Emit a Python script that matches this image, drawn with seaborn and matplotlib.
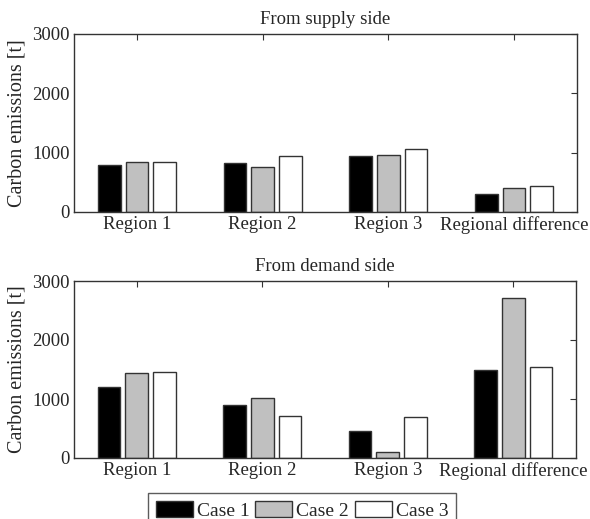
import matplotlib
matplotlib.use("Agg")
import matplotlib.pyplot as plt
import seaborn as sns
import pandas as pd

categories = ["Region 1", "Region 2", "Region 3", "Regional difference"]
cases = ["Case 1", "Case 2", "Case 3"]
supply_case1 = [800, 820, 950, 295]
supply_case2 = [840, 765, 960, 410]
supply_case3 = [840, 945, 1060, 440]
demand_case1 = [1210, 890, 465, 1495]
demand_case2 = [1440, 1010, 110, 2710]
demand_case3 = [1455, 705, 690, 1540]
yticks = [0, 1000, 2000, 3000]
titles = ["From supply side", "From demand side"]
ylabel = "Carbon emissions [t]"

def long_df(c1, c2, c3):
    rows = []
    for case, vals in zip(cases, [c1, c2, c3]):
        for cat, v in zip(categories, vals):
            rows.append({"category": cat, "case": case, "value": v})
    return pd.DataFrame(rows)

sns.set_style("white")
plt.rcParams["font.family"] = ["Liberation Serif", "DejaVu Serif"]
plt.rcParams["font.size"] = 13.5

fig = plt.figure(figsize=(5.9, 5.19), dpi=100)
ax1 = fig.add_axes([74/590, 1-212/519, 503/590, 178/519])
ax2 = fig.add_axes([74/590, 1-458/519, 502/590, 177/519])

palette = ["#000000", "#c0c0c0", "#ffffff"]
data = [long_df(supply_case1, supply_case2, supply_case3),
        long_df(demand_case1, demand_case2, demand_case3)]

for ax, df, title in zip([ax1, ax2], data, titles):
    sns.barplot(data=df, x="category", y="value", hue="case", order=categories,
                hue_order=cases, palette=palette, width=0.66, gap=0.18,
                edgecolor="#333333", linewidth=1, ax=ax, legend=(ax is ax2),
                saturation=1)
    ax.set_xlim(-0.5, 3.5)
    ax.set_ylim(0, 3000)
    ax.set_yticks(yticks)
    ax.set_xlabel("")
    ax.set_ylabel(ylabel, fontsize=14.5, labelpad=4)
    ax.set_title(title, fontsize=13.5, pad=7)
    ax.tick_params(direction="in", top=True, right=True, length=4,
                   labelsize=13.5, color="#333333", pad=3)
    for s in ax.spines.values():
        s.set_color("#333333")
        s.set_linewidth(1)

handles, labels = ax2.get_legend_handles_labels()
ax2.get_legend().remove()
leg = fig.legend(handles, labels, loc="lower center", ncol=3,
                 bbox_to_anchor=(302/590, -0.035), frameon=True, fancybox=False,
                 edgecolor="#333333", fontsize=14, handlelength=1.9,
                 handleheight=0.95, handletextpad=0.2, columnspacing=0.3,
                 borderpad=0.4, borderaxespad=0.5)
leg.get_frame().set_linewidth(1)

fig.savefig("out.png", dpi=100)
